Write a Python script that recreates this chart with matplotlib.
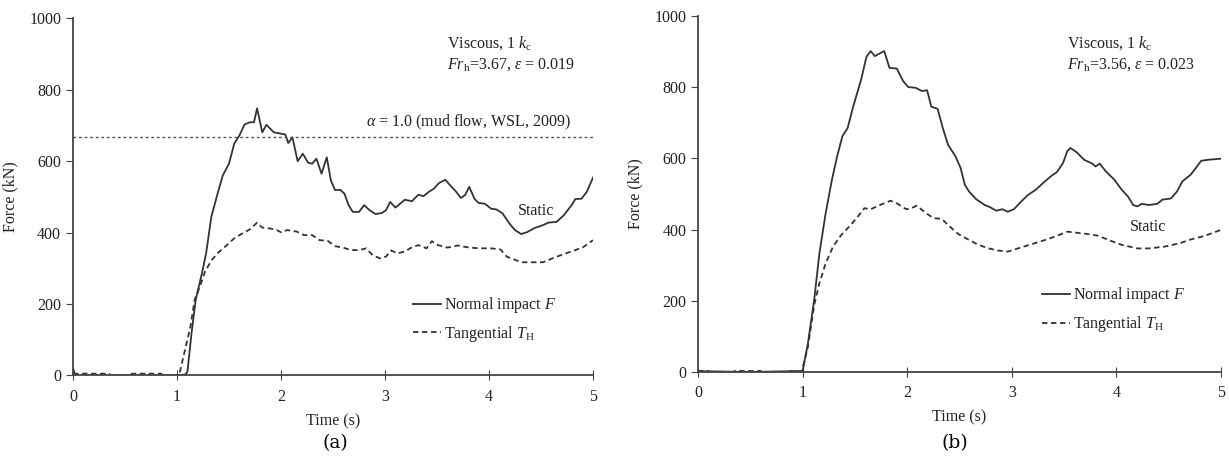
import matplotlib
matplotlib.use("Agg")
import matplotlib.pyplot as plt
import numpy as np

plt.rcParams["font.family"] = ["Liberation Serif", "DejaVu Serif"]
plt.rcParams["mathtext.fontset"] = "custom"
plt.rcParams["mathtext.rm"] = "Liberation Serif"
plt.rcParams["mathtext.it"] = "Liberation Serif:italic"

# ---- panel (a) data ----
ta_F = [0.0, 0.02, 0.05, 0.5, 1.0, 1.08, 1.10, 1.14, 1.18, 1.24, 1.28, 1.33, 1.39, 1.44, 1.50, 1.55,
        1.60, 1.65, 1.70, 1.74, 1.77, 1.82, 1.86, 1.93, 2.00, 2.04, 2.07, 2.11, 2.16,
        2.21, 2.26, 2.30, 2.34, 2.39, 2.44, 2.48, 2.52, 2.57, 2.61, 2.65, 2.69, 2.75,
        2.80, 2.85, 2.91, 2.97, 3.01, 3.05, 3.10, 3.19, 3.26, 3.32, 3.37, 3.42, 3.47,
        3.52, 3.58, 3.64, 3.68, 3.73, 3.77, 3.81, 3.86, 3.90, 3.96, 4.02, 4.07, 4.13,
        4.20, 4.25, 4.31, 4.37, 4.44, 4.52, 4.57, 4.65, 4.72, 4.80, 4.83, 4.89, 4.94, 5.00]
Fa = [20, 2, 0, 0, 0, 3, 10, 119, 212, 286, 342, 444, 509, 560, 593, 649,
      672, 703, 709, 709, 748, 681, 702, 681, 677, 675, 651, 667, 600,
      621, 596, 593, 607, 565, 611, 546, 519, 520, 509, 477, 458, 458,
      477, 463, 452, 455, 463, 486, 470, 492, 488, 506, 502, 514, 523,
      539, 548, 528, 516, 497, 505, 528, 495, 483, 481, 467, 465, 454,
      424, 407, 396, 402, 413, 421, 428, 430, 449, 479, 494, 495, 514, 554]

ta_T = [0.0, 0.35, 0.36, 0.54, 0.55, 0.85, 0.86, 1.02, 1.07, 1.13, 1.17, 1.22, 1.27, 1.33, 1.40, 1.48,
        1.55, 1.63, 1.70, 1.77, 1.82, 1.89, 1.96, 2.00, 2.06, 2.15, 2.22, 2.30, 2.37,
        2.45, 2.52, 2.60, 2.67, 2.75, 2.82, 2.88, 2.95, 3.01, 3.06, 3.12, 3.19, 3.26,
        3.32, 3.40, 3.45, 3.51, 3.60, 3.70, 3.79, 3.90, 4.02, 4.11, 4.17, 4.24, 4.31,
        4.42, 4.52, 4.61, 4.72, 4.83, 4.91, 5.00]
Ta = [5, 5, -5, -5, 5, 5, -5, 0, 63, 138, 212, 249, 291, 322, 345, 365,
      384, 398, 409, 428, 414, 412, 407, 401, 407, 403, 393, 393, 379,
      377, 362, 358, 351, 351, 356, 337, 328, 333, 350, 342, 347, 359,
      365, 356, 376, 365, 358, 364, 359, 356, 356, 353, 333, 325, 317,
      317, 317, 328, 340, 351, 360, 379]

# ---- panel (b) data ----
tb_F = [0.0, 0.1, 0.5, 1.0, 1.05, 1.11, 1.16, 1.22, 1.28, 1.33, 1.38, 1.43, 1.48, 1.56, 1.61,
        1.65, 1.69, 1.78, 1.83, 1.90, 1.96, 2.01, 2.08, 2.14, 2.19, 2.23, 2.29, 2.34,
        2.39, 2.46, 2.51, 2.55, 2.59, 2.66, 2.74, 2.79, 2.85, 2.91, 2.96, 3.02, 3.08,
        3.15, 3.23, 3.30, 3.38, 3.43, 3.49, 3.53, 3.56, 3.62, 3.69, 3.77, 3.80, 3.84,
        3.90, 3.98, 4.05, 4.11, 4.16, 4.20, 4.24, 4.31, 4.39, 4.44, 4.52, 4.58, 4.63,
        4.71, 4.76, 4.81, 4.88, 5.00]
Fb = [2, 2, 0, 3, 80, 202, 333, 446, 540, 606, 662, 685, 742, 822, 885,
      901, 887, 901, 854, 852, 817, 800, 798, 789, 791, 745, 739, 685,
      638, 606, 573, 526, 507, 485, 469, 463, 453, 457, 450, 457, 476,
      496, 512, 531, 551, 561, 587, 620, 629, 617, 596, 585, 577, 585,
      563, 540, 512, 493, 469, 465, 472, 469, 472, 484, 487, 507, 535,
      554, 573, 593, 596, 599]

tb_T = [0.0, 0.1, 0.11, 0.34, 0.35, 0.6, 0.61, 0.84, 0.85, 0.99, 1.05, 1.11, 1.16, 1.22, 1.29, 1.37,
        1.46, 1.54, 1.59, 1.65, 1.74, 1.84, 1.91, 1.99, 2.04, 2.09, 2.18, 2.25,
        2.33, 2.40, 2.49, 2.59, 2.68, 2.78, 2.87, 2.96, 3.08, 3.19, 3.30, 3.41,
        3.53, 3.62, 3.71, 3.82, 3.94, 4.05, 4.20, 4.31, 4.46, 4.61, 4.72, 4.84, 5.00]
Tb = [3, 3, -5, -5, 3, 3, -5, -5, 3, 0, 70, 188, 249, 305, 352, 385,
      413, 441, 460, 457, 469, 481, 472, 457, 460, 467, 446, 432,
      430, 410, 387, 371, 357, 347, 341, 338, 349, 359, 369, 380,
      394, 391, 388, 383, 369, 357, 347, 347, 352, 362, 373, 382, 399]

wsl_level = 667
labels = ["Normal impact $F$", "Tangential $T_\\mathrm{H}$"]
cases = [
    ("Viscous, 1 $k_\\mathrm{c}$", "$Fr_\\mathrm{h}$=3.67, $\\varepsilon$ = 0.019"),
    ("Viscous, 1 $k_\\mathrm{c}$", "$Fr_\\mathrm{h}$=3.56, $\\varepsilon$ = 0.023"),
]

fig = plt.figure(figsize=(12.29, 4.59), dpi=100)
ax_a = fig.add_axes([0.0594, 0.182, 0.4231, 0.778])
ax_b = fig.add_axes([0.568, 0.1895, 0.4255, 0.776])

col = "#333333"
txt = "#222222"
layout = [
    # text x, text y1, text y2, legend anchor
    (0.719, 0.931, 0.870, (0.627, 0.048)),
    (0.705, 0.924, 0.862, (0.631, 0.066)),
]
for ax, (tf, f, tt, tg), case, pos in zip(
        [ax_a, ax_b],
        [(ta_F, Fa, ta_T, Ta), (tb_F, Fb, tb_T, Tb)],
        cases, layout):
    ax.plot(tf, f, color=col, lw=1.3, label=labels[0])
    ax.plot(tt, tg, color=col, lw=1.3, ls=(0, (3, 2)), label=labels[1])
    ax.set_xlim(0, 5)
    ax.set_ylim(0, 1000)
    ax.set_xticks([0, 1, 2, 3, 4, 5])
    ax.set_yticks(range(0, 1001, 200))
    for s in ["top", "right"]:
        ax.spines[s].set_visible(False)
    for s in ["left", "bottom"]:
        ax.spines[s].set_color("#444444")
        ax.spines[s].set_linewidth(1.3)
    ax.tick_params(axis="y", direction="out", length=5, color="#444444", labelsize=11.5, colors=txt)
    ax.tick_params(axis="x", direction="inout", length=7, color="#444444", labelsize=11.5, colors=txt, pad=6)
    ax.set_xlabel("Time (s)", fontsize=11.5, labelpad=6, color=txt)
    ax.set_ylabel("Force (kN)", fontsize=11.5, labelpad=8, color=txt)
    ax.text(pos[0], pos[1], case[0], transform=ax.transAxes, fontsize=11.5, color=txt, va="center")
    ax.text(pos[0], pos[2], case[1], transform=ax.transAxes, fontsize=11.5, color=txt, va="center")
    ax.legend(loc="lower left", bbox_to_anchor=pos[3], frameon=False, fontsize=11.5,
              handlelength=1.75, handletextpad=0.15, labelspacing=0.55, labelcolor=txt)

ax_a.axhline(wsl_level, color="#555555", lw=1.0, ls=(0, (2, 2)))
ax_a.text(2.82, 708, "$\\alpha$ = 1.0 (mud flow, WSL, 2009)", fontsize=11.5, color=txt, va="center")
ax_a.text(4.45, 461, "Static", fontsize=11.5, color=txt, ha="center", va="center")
ax_b.text(4.30, 408, "Static", fontsize=11.5, color=txt, ha="center", va="center")

fig.text(0.2726, 0.035, "(a)", fontsize=13.5, family="DejaVu Serif", ha="center", va="center")
fig.text(0.777, 0.035, "(b)", fontsize=13.5, family="DejaVu Serif", ha="center", va="center")

fig.savefig("out.png", dpi=100)
